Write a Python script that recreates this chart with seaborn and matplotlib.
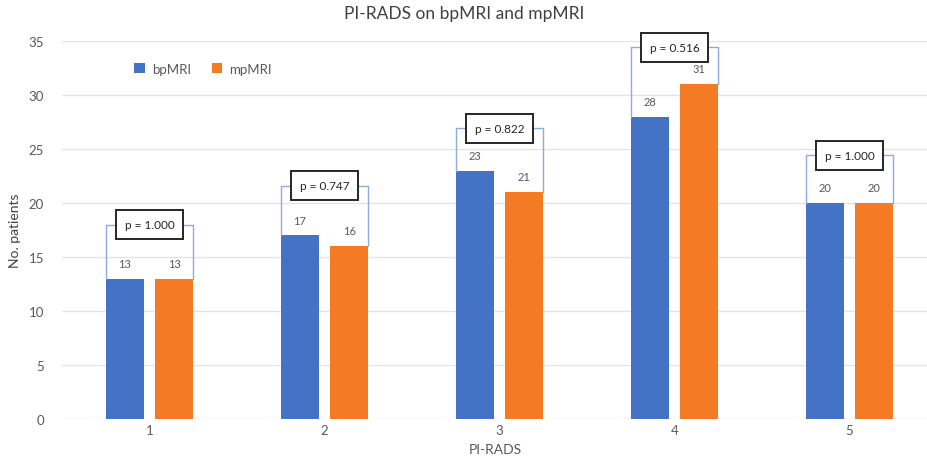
import numpy as np
import pandas as pd
import matplotlib.pyplot as plt
import seaborn as sns

# 数据
pirads = ["1", "2", "3", "4", "5"]
bpmri = [13, 17, 23, 28, 20]
mpmri = [13, 16, 21, 31, 20]
p_values = ["p = 1.000", "p = 0.747", "p = 0.822", "p = 0.516", "p = 1.000"]
bracket_level = [18.0, 21.6, 26.9, 34.4, 24.4]

df = pd.DataFrame({
    "PI-RADS": pirads * 2,
    "count": bpmri + mpmri,
    "MRI": ["bpMRI"] * len(pirads) + ["mpMRI"] * len(pirads),
})

sns.set_style("white")
plt.rcParams['font.family'] = ['Lato', 'DejaVu Sans']

fig = plt.figure(figsize=(9.28, 4.64), dpi=100)
ax = fig.add_axes([62 / 928, 1 - 420 / 464, 866 / 928, 378 / 464])

sns.barplot(data=df, x="PI-RADS", y="count", hue="MRI",
            palette={"bpMRI": "#4472C4", "mpMRI": "#F47B24"},
            width=0.57, gap=0.24, ax=ax, saturation=1, zorder=2, linewidth=0)

ax.set_xlim(-0.5, -0.5 + 866 / 175)
ax.set_ylim(0, 35)
ax.set_yticks(range(0, 36, 5))
ax.yaxis.grid(True, color="#e4e4e4", lw=1, zorder=0)
ax.set_axisbelow(True)
for s in ax.spines.values():
    s.set_visible(False)
ax.tick_params(axis="both", length=0, labelsize=9.5, labelcolor="#595959")
ax.tick_params(axis="y", pad=13)

# 数值标签和括号
left_bars, right_bars = ax.containers[0], ax.containers[1]
for i in range(len(pirads)):
    lb, rb = left_bars[i], right_bars[i]
    for b in (lb, rb):
        ax.text(b.get_x() + b.get_width() / 2, b.get_height() + 0.9,
                f"{int(b.get_height())}", ha="center", va="bottom",
                fontsize=8, color="#595959")
    lx = lb.get_x()
    rx = rb.get_x() + rb.get_width()
    lev = bracket_level[i]
    ax.plot([lx, lx, rx, rx], [lb.get_height(), lev, lev, rb.get_height()],
            color="#8FAADC", lw=1, zorder=3, clip_on=False)
    ax.text((lx + rx) / 2, lev, p_values[i], ha="center", va="center",
            fontsize=8.5, color="#262626", zorder=5, clip_on=False,
            bbox=dict(boxstyle="square,pad=0.75", fc="white", ec="#262626", lw=1.4))

leg = ax.legend(loc="center left", bbox_to_anchor=(0.07, 0.926), ncol=2,
                frameon=False, fontsize=9.5, handlelength=0.8, handleheight=0.8,
                columnspacing=1.6, handletextpad=0.5)
for t in leg.get_texts():
    t.set_color("#595959")

ax.set_xlabel("PI-RADS", fontsize=10, color="#595959", labelpad=5)
ax.set_ylabel("No. patients", fontsize=10, color="#404040", labelpad=5)
fig.text(0.5, 1 - 14 / 464, "PI-RADS on bpMRI and mpMRI", ha="center", va="center",
         fontsize=12.5, color="#404040")

plt.savefig("out.png", dpi=100)
